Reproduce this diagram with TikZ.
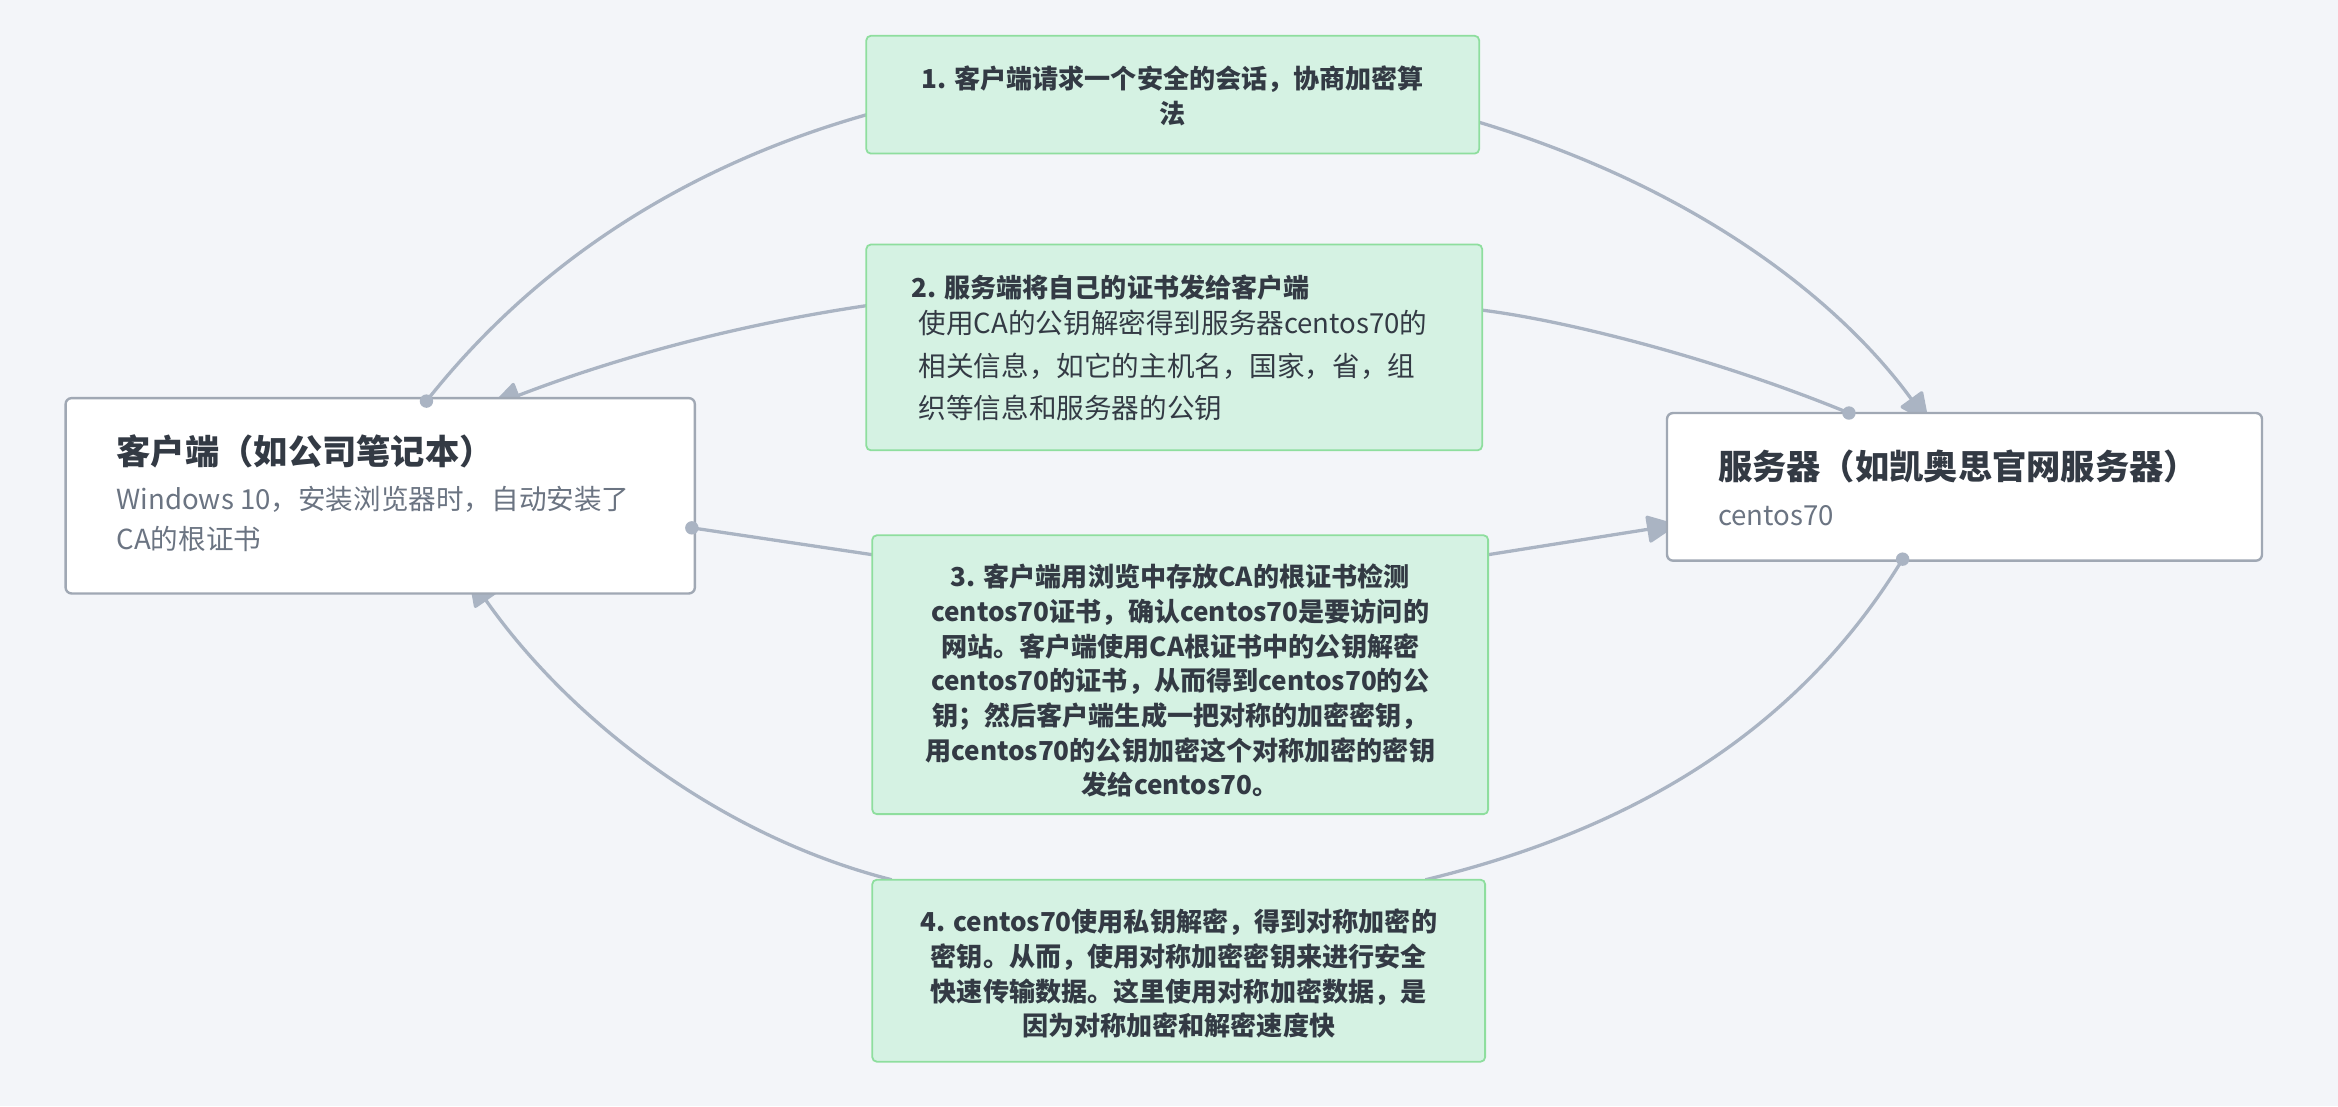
\documentclass[tikz,border=0pt]{standalone}
\usepackage{fontspec}
\setmainfont{Noto Sans CJK SC}
\usetikzlibrary{arrows.meta}
\definecolor{bg}{HTML}{F3F5F9}
\definecolor{gfill}{HTML}{D5F2E3}
\definecolor{gline}{HTML}{8EDE9E}
\definecolor{wline}{HTML}{A0A8B4}
\definecolor{conn}{HTML}{AAB4C3}
\definecolor{txt}{HTML}{333A44}
\definecolor{sub}{HTML}{6B7482}
\tikzset{
 wbox/.style={draw=wline,line width=1.6pt,fill=white,rounded corners=4pt},
 gbox/.style={draw=gline,line width=1.2pt,fill=gfill,rounded corners=3pt},
 ttl/.style={anchor=west,font=\fontsize{23}{26}\selectfont\bfseries,text=txt,inner sep=0},
 subt/.style={anchor=west,font=\fontsize{18.5}{27}\selectfont,text=sub,inner sep=0,align=left},
 gtxt/.style={font=\fontsize{17.5}{23.3}\selectfont\bfseries,text=txt,inner sep=0,align=center},
 conline/.style={draw=conn,line width=2.2pt},
 arr/.style={conline,-{Triangle[length=21pt,width=19pt,round]}},
 dot/.style={circle,fill=conn,inner sep=0,minimum size=9pt},
}
\begin{document}
\begin{tikzpicture}[x=1pt,y=-1pt]
\fill[bg] (0,0) rectangle (1568,742);
\useasboundingbox (0,0) rectangle (1568,742);
% connectors
\coordinate (c1) at (286,269); \coordinate (b1l) at (581,77);
\coordinate (b1r) at (992,82); \coordinate (s1) at (1293,283);
\draw[conline] (c1) .. controls (380,150) and (500,100) .. (b1l);
\draw[arr] (b1r) .. controls (1150,130) and (1240,210) .. (s1);
\coordinate (s2) at (1240,277); \coordinate (b2r) at (994,208);
\coordinate (b2l) at (581,205); \coordinate (c2) at (330,272);
\draw[conline] (s2) .. controls (1150,240) and (1050,215) .. (b2r);
\draw[arr] (b2l) .. controls (480,220) and (400,245) .. (c2);
\coordinate (c3) at (464,354); \coordinate (b3l) at (585,372);
\coordinate (b3r) at (998,372); \coordinate (s3) at (1124,352);
\draw[conline] (c3) -- (b3l);
\draw[arr] (b3r) -- (s3);
\coordinate (s4) at (1276,375); \coordinate (b4r) at (956,590);
\coordinate (b4l) at (598,590); \coordinate (c4) at (315,387);
\draw[conline] (s4) .. controls (1200,500) and (1080,560) .. (b4r);
\draw[arr] (b4l) .. controls (480,560) and (380,480) .. (c4);
% client
\draw[wbox] (44,267) rectangle (466,398);
\node[ttl] (ct) at (78,303) {客户端（如公司笔记本）};
\node[subt,anchor=north west] (cs) at (78,326) {Windows 10，安装浏览器时，自动安装了\\CA的根证书};
% server
\draw[wbox] (1118,277) rectangle (1517,376);
\node[ttl] (st) at (1152,313) {服务器（如凯奥思官网服务器）};
\node[subt] (ss) at (1152,346) {centos70};
% green boxes
\draw[gbox] (581,24) rectangle (992,103);
\node[gtxt] (g1) at (786.5,64.5) {1. 客户端请求一个安全的会话，协商加密算\\法};
\draw[gbox] (581,164) rectangle (994,302);
\node[gtxt,anchor=west] (g2a) at (611,193) {2. 服务端将自己的证书发给客户端};
\node[anchor=north west,inner sep=0,align=left,text=txt,font=\fontsize{18.5}{28.5}\selectfont] (g2b) at (616,208) {使用CA的公钥解密得到服务器centos70的\\相关信息，如它的主机名，国家，省，组\\织等信息和服务器的公钥};
\draw[gbox] (585,359) rectangle (998,546);
\node[gtxt] (g3) at (791.5,456.5) {3. 客户端用浏览中存放CA的根证书检测\\centos70证书，确认centos70是要访问的\\网站。客户端使用CA根证书中的公钥解密\\centos70的证书，从而得到centos70的公\\钥；然后客户端生成一把对称的加密密钥，\\用centos70的公钥加密这个对称加密的密钥\\发给centos70。};
\draw[gbox] (585,590) rectangle (996,712);
\node[gtxt] (g4) at (790.5,653) {4. centos70使用私钥解密，得到对称加密的\\密钥。从而，使用对称加密密钥来进行安全\\快速传输数据。这里使用对称加密数据，是\\因为对称加密和解密速度快};
% dots
\node[dot] at (c1) {}; \node[dot] at (s2) {}; \node[dot] at (c3) {}; \node[dot] at (s4) {};
\end{tikzpicture}
\end{document}
